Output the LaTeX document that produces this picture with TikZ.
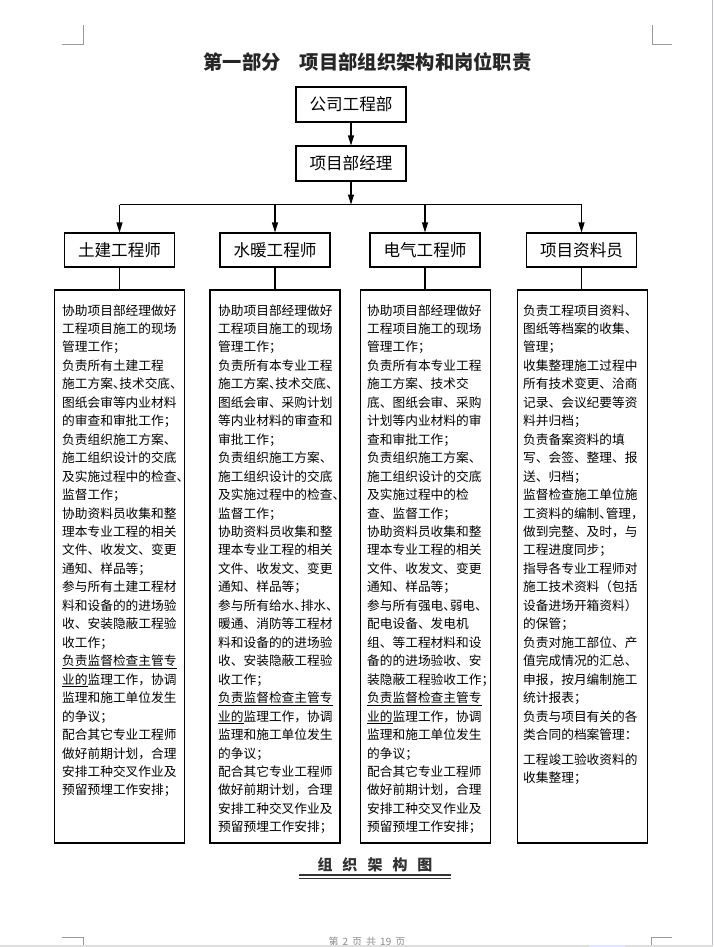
\documentclass[tikz,border=0pt]{standalone}
\usepackage{fontspec}
\newfontfamily\cjk{Noto Sans CJK SC}
\usetikzlibrary{arrows.meta}
\definecolor{edgegray}{RGB}{190,190,200}
\newcommand{\hw}[1]{\makebox[0.5em][l]{#1}}
\begin{document}
\begin{tikzpicture}[x=1pt,y=-1pt,
  box/.style={draw, line width=1.1pt, minimum width=110pt, minimum height=35pt, inner sep=0pt,
    font=\cjk\fontsize{16.6}{20}\selectfont},
  desc/.style={draw, line width=1.1pt, minimum width=130pt, minimum height=553pt, inner sep=0pt},
  dtext/.style={anchor=base west, inner sep=0pt, font=\cjk\fontsize{12.7}{18.46}\selectfont},
  arr/.style={line width=1.1pt, -{Triangle[length=10pt,width=6pt]}},
  ln/.style={line width=1.1pt},
  cornermark/.style={line width=1pt, black!40},
]
\useasboundingbox (0,0) rectangle (713,947);
\fill[white] (0,0) rectangle (713,947);

% page corner marks
\draw[cornermark] (62,45) -- (83,45) -- (83,25);
\draw[cornermark] (652,25) -- (652,45) -- (672,45);
\draw[cornermark] (62,937.3) -- (83,937.3) -- (83,945);
\draw[cornermark] (672,937.3) -- (651.5,937.3) -- (651.5,945);

% title
\node[font=\cjk\bfseries\fontsize{19.3}{22}\selectfont, text=black!85, inner sep=0pt] (title) at (367.5,62)
  {第一部分\hspace{1em}项目部组织架构和岗位职责};

% top boxes
\node[box] (co) at (351,104.5) {公司工程部};
\node[box] (pm) at (351,163.5) {项目部经理};
\draw[arr] (co) -- (pm);
\coordinate (bus) at (351,204.5);
\draw[arr] (pm) -- (bus);

% row boxes
\node[box, minimum height=34pt] (r1) at (119.5,250) {土建工程师};
\node[box, minimum height=34pt] (r2) at (275,250) {水暖工程师};
\node[box, minimum height=34pt] (r3) at (425,250) {电气工程师};
\node[box, minimum height=34pt] (r4) at (581.5,250) {项目资料员};

\coordinate (b1) at (r1.north |- bus);
\coordinate (b2) at (r2.north |- bus);
\coordinate (b3) at (r3.north |- bus);
\coordinate (b4) at (r4.north |- bus);
\draw[ln] (b1) -- (b4);
\draw[arr] (b1) -- (r1);
\draw[arr] (b2) -- (r2);
\draw[arr] (b3) -- (r3);
\draw[arr] (b4) -- (r4);

% description boxes
\node[desc] (d1) at (119.5,566.5) {};
\node[desc] (d2) at (275,566.5) {};
\node[desc] (d3) at (425.5,566.5) {};
\node[desc] (d4) at (582.5,566.5) {};
\draw[ln] (r1.south) -- (r1.south |- d1.north);
\draw[ln] (r2.south) -- (r2.south |- d2.north);
\draw[ln] (r3.south) -- (r3.south |- d3.north);
\draw[ln] (r4.south) -- (r4.south |- d4.north);

\node[dtext] (t1) at (62,315) {\begin{tabular}[t]{@{}l@{}}
协助项目部经理做好\\
工程项目施工的现场\\
管理工作；\\
负责所有土建工程\\
施工方案\hw{、}技术交底\hw{、}\\
图纸会审等内业材料\\
的审查和审批工作；\\
负责组织施工方案、\\
施工组织设计的交底\\
及实施过程中的检查\hw{、}\\
监督工作；\\
协助资料员收集和整\\
理本专业工程的相关\\
文件、收发文、变更\\
通知、样品等；\\
参与所有土建工程材\\
料和设备的的进场验\\
收、安装隐蔽工程验\\
收工作；\\
\underline{负责监督检查主管专}\\
\underline{业的}监理工作，协调\\
监理和施工单位发生\\
的争议；\\
配合其它专业工程师\\
做好前期计划，合理\\
安排工种交叉作业及\\
预留预埋工作安排；
\end{tabular}};

\node[dtext] (t2) at (218,315) {\begin{tabular}[t]{@{}l@{}}
协助项目部经理做好\\
工程项目施工的现场\\
管理工作；\\
负责所有本专业工程\\
施工方案\hw{、}技术交底\hw{、}\\
图纸会审、采购计划\\
等内业材料的审查和\\
审批工作；\\
负责组织施工方案、\\
施工组织设计的交底\\
及实施过程中的检查\hw{、}\\
监督工作；\\
协助资料员收集和整\\
理本专业工程的相关\\
文件、收发文、变更\\
通知、样品等；\\
参与所有给水\hw{、}排水\hw{、}\\
暖通、消防等工程材\\
料和设备的的进场验\\
收、安装隐蔽工程验\\
收工作；\\
\underline{负责监督检查主管专}\\
\underline{业的}监理工作，协调\\
监理和施工单位发生\\
的争议；\\
配合其它专业工程师\\
做好前期计划，合理\\
安排工种交叉作业及\\
预留预埋工作安排；
\end{tabular}};

\node[dtext] (t3) at (367,315) {\begin{tabular}[t]{@{}l@{}}
协助项目部经理做好\\
工程项目施工的现场\\
管理工作；\\
负责所有本专业工程\\
施工方案、技术交\\
底、图纸会审、采购\\
计划等内业材料的审\\
查和审批工作；\\
负责组织施工方案、\\
施工组织设计的交底\\
及实施过程中的检\\
查、监督工作；\\
协助资料员收集和整\\
理本专业工程的相关\\
文件、收发文、变更\\
通知、样品等；\\
参与所有强电\hw{、}弱电\hw{、}\\
配电设备、发电机\\
组、等工程材料和设\\
备的的进场验收、安\\
装隐蔽工程验收工作\hw{；}\\
\underline{负责监督检查主管专}\\
\underline{业的}监理工作，协调\\
监理和施工单位发生\\
的争议；\\
配合其它专业工程师\\
做好前期计划，合理\\
安排工种交叉作业及\\
预留预埋工作安排；
\end{tabular}};

\node[dtext] (t4) at (523,315) {\begin{tabular}[t]{@{}l@{}}
负责工程项目资料、\\
图纸等档案的收集、\\
管理；\\
收集整理施工过程中\\
所有技术变更、洽商\\
记录、会议纪要等资\\
料并归档；\\
负责备案资料的填\\
写、会签、整理、报\\
送、归档；\\
监督检查施工单位施\\
工资料的编制\hw{、}管理，\\
做到完整、及时，与\\
工程进度同步；\\
指导各专业工程师对\\
施工技术资料（包括\\
设备进场开箱资料）\\
的保管；\\
负责对施工部位、产\\
值完成情况的汇总、\\
申报，按月编制施工\\
统计报表；\\
负责与项目有关的各\\
类合同的档案管理：\\[6pt]
工程竣工验收资料的\\
收集整理；
\end{tabular}};

% caption
\node[font=\cjk\bfseries\fontsize{15}{18}\selectfont, text=black!80, inner sep=0pt] (cap) at (375,865)
  {组\hspace{10pt}织\hspace{10pt}架\hspace{10pt}构\hspace{10pt}图};
\draw[black!80, line width=2pt] (299,874.7) -- (451,874.7);
\draw[black!80, line width=1.5pt] (299,878.7) -- (451,878.7);

% footer
\node[font=\cjk\fontsize{10}{12}\selectfont, text=black!45, inner sep=0pt] (foot) at (367,942)
  {第\hspace{4pt}2\hspace{4pt}页\hspace{4pt}共\hspace{4pt}19\hspace{4pt}页};
\fill[black!13] (0,944.5) rectangle (713,947);
\fill[blue!10] (589,944.5) rectangle (625,947);
\draw[line width=1pt, edgegray] (712.3,0) -- (712.3,944.5);
\end{tikzpicture}
\end{document}
